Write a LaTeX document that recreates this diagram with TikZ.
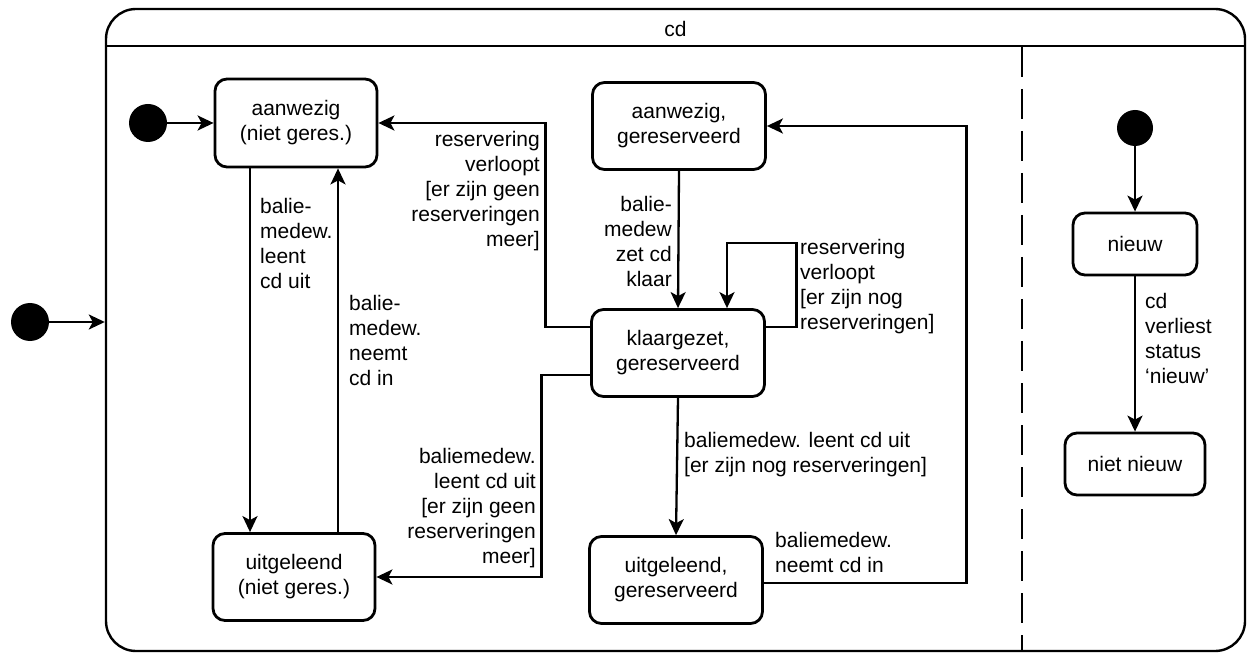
\documentclass[tikz,border=0pt]{standalone}
\usepackage{fontspec}
\setmainfont{Liberation Sans}
\usetikzlibrary{arrows.meta}
\begin{document}
\begin{tikzpicture}[x=1pt,y=-1pt,
  every node/.style={font=\fontsize{21}{25}\selectfont},
  state/.style={draw, line width=2.8pt, rounded corners=12pt, align=center, inner sep=0pt},
  lbl/.style={inner sep=0pt},
  arr/.style={line width=2.3pt, -{Stealth[length=16pt,width=15pt,inset=4pt]}},
  initdot/.style={circle, fill=black, minimum size=38pt, inner sep=0pt}]
\useasboundingbox (0,0) rectangle (1253,660);

% container
\node[draw, line width=2.4pt, rounded corners=30pt, minimum width=1139pt, minimum height=642pt, inner sep=0pt] (cd) at (675.5,330) {};
\draw[line width=2.4pt] ([yshift=-38pt]cd.north west) -- ([yshift=-38pt]cd.north east);
\node (title) at (675.5,29) {cd};
\draw[line width=2.4pt, dash pattern=on 30pt off 12pt] (1022,47) -- (1022,651);

% states
\node[state, minimum width=162pt, minimum height=88pt] (a1) at (296,123) {aanwezig\\(niet geres.)};
\node[state, minimum width=162pt, minimum height=87pt] (u1) at (294,577) {uitgeleend\\(niet geres.)};
\node[state, minimum width=173pt, minimum height=87pt] (a2) at (679,126) {aanwezig,\\gereserveerd};
\node[state, minimum width=173pt, minimum height=87pt] (k) at (678,353) {klaargezet,\\gereserveerd};
\node[state, minimum width=173pt, minimum height=87pt] (u2) at (676,580) {uitgeleend,\\gereserveerd};
\node[state, minimum width=124pt, minimum height=62pt] (n) at (1135,244) {nieuw};
\node[state, minimum width=140pt, minimum height=62pt] (nn) at (1135,464) {niet nieuw};

% initial pseudostates
\node[initdot] (i0) at (30,322) {};
\node[initdot] (i1) at (148,123) {};
\node[initdot, minimum size=36pt] (i2) at (1135,128) {};

% transitions
\draw[arr] (i0) -- (i0 -| cd.west);
\draw[arr] (i1) -- (a1.west);
\draw[arr] ([xshift=-46pt]a1.south) -- ([xshift=-46pt]a1.south |- u1.north);
\draw[arr] ([xshift=44pt]u1.north) -- ([xshift=44pt]u1.north |- a1.south);
\draw[arr] ([yshift=26pt]k.west) -- ++(-44.5,0) |- (a1.east);
\draw[arr] ([yshift=-22pt]k.west) -- ++(-48.5,0) |- (u1.east);
\draw[arr] (a2.south) -- (k.north);
\draw[arr] ([yshift=26pt]k.east) -- ++(30.5,0) -- ++(0,-84) -| ([xshift=49pt]k.north);
\draw[arr] (k.south) -- (u2.north);
\draw[arr] ([yshift=-3pt]u2.east) -- ++(202.5,0) |- (a2.east);
\draw[arr] (i2) -- (n.north);
\draw[arr] (n.south) -- (nn.north);

% labels
\node[lbl, anchor=west, align=left] (l1) at (260,243) {balie-\\medew.\\leent\\cd uit};
\node[lbl, anchor=west, align=left] (l2) at (349,340) {balie-\\medew.\\neemt\\cd in};
\node[lbl, anchor=east, align=right] (l3) at (540,191) {reservering\\verloopt\\{[er zijn geen}\\reserveringen\\meer]};
\node[lbl, anchor=east, align=right] (l4) at (672,241) {balie-\\medew\\zet cd\\klaar};
\node[lbl, anchor=west, align=left] (l5) at (800,287) {reservering\\verloopt\\{[er zijn nog}\\reserveringen]};
\node[lbl, anchor=east, align=right] (l6) at (536,508) {baliemedew.\\leent cd uit\\{[er zijn geen}\\reserveringen\\meer]};
\node[lbl, anchor=west, align=left] (l7) at (684,455) {baliemedew. leent cd uit\\{[er zijn nog reserveringen]}};
\node[lbl, anchor=west, align=left] (l8) at (775,552) {baliemedew.\\neemt cd in};
\node[lbl, anchor=west, align=left] (l9) at (1145,338) {cd\\verliest\\status\\‘nieuw’};
\end{tikzpicture}
\end{document}
